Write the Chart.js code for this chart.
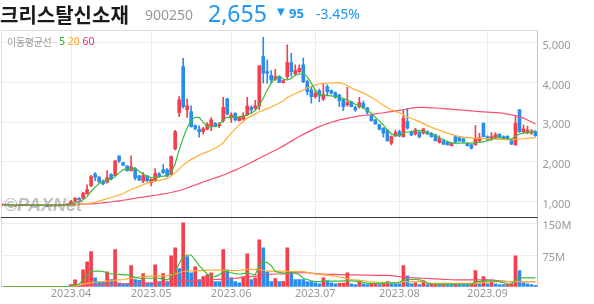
<!DOCTYPE html>
<html><head><meta charset="utf-8">
<script src="https://cdn.jsdelivr.net/npm/chart.js@4.4.1/dist/chart.umd.min.js"></script>
<style>
html,body{margin:0;padding:0;background:#fff;}
#wrap{position:relative;width:594px;height:304px;overflow:hidden;}
canvas{position:absolute;left:0;top:0;}
.t{position:absolute;white-space:nowrap;line-height:1;}
</style></head><body>
<div id="wrap">
<canvas id="c" width="594" height="304"></canvas>
<div class="t" style="left:0;top:0;font:bold 20px 'Noto Sans CJK KR';color:#1a1a1a">크리스탈신소재</div>
<div class="t" style="left:145px;top:5px;font:14px 'Noto Sans';color:#999">900250</div>
<div class="t" style="left:208px;top:-3px;font:23px 'Noto Sans';color:#2196f3">2,655</div>
<div class="t" style="left:277px;top:6px;font:10px 'DejaVu Sans';color:#2196f3">▼</div>
<div class="t" style="left:289px;top:4px;font:bold 13px 'Noto Sans';color:#2196f3">95</div>
<div class="t" style="left:316px;top:4px;font:14px 'Noto Sans';color:#2196f3">-3.45%</div>
<div class="t" style="left:7px;top:34px;font:10px 'Noto Sans CJK KR';color:#999;letter-spacing:-0.3px">이동평균선</div>
<div class="t" style="left:59px;top:34px;font:10.5px 'Noto Sans';"><span style="color:#22b022">5</span> <span style="color:#ffa31a">20</span> <span style="color:#f5245e">60</span></div>
<div class="t" style="left:4px;top:195px;font:italic bold 18px 'Liberation Sans';color:rgba(110,110,110,0.42)">©PAXNet</div>
</div>
<script>
// ---- data ----
const tradingDays = {
  '2023.03': [9,10,13,14,15,16,17,20,21,22,23,24,27,28,29,30,31],
  '2023.04': [3,4,5,6,7,10,11,12,13,14,17,18,19,20,21,24,25,26,27,28],
  '2023.05': [2,3,4,8,9,10,11,12,15,16,17,18,19,22,23,24,25,26,30,31],
  '2023.06': [1,2,5,7,8,9,12,13,14,15,16,19,20,21,22,23,26,27,28,29,30],
  '2023.07': [3,4,5,6,7,10,11,12,13,14,17,18,19,20,21,24,25,26,27,28,31],
  '2023.08': [1,2,3,4,7,8,9,10,11,14,16,17,18,21,22,23,24,25,28,29,30,31],
  '2023.09': [1,4,5,6,7,8,11,12,13,14,15,18,19]
};
const open = [905,920,910,888,890,900,905,890,898,892,900,895,882,895,888,900,905,
 940,1010,1080,1080,1190,1390,1693,1617,1500,1483,
 1676,1651,2147,1979,1895,1777,1827,1643,1508,1643,
 1475,1525,1693,1794,1794,1680,2323,3239,4398,3306,
 3264,2902,2818,2760,2818,2902,2970,2900,3037,3583,
 3117,3222,3037,3070,3180,3373,3348,3407,4650,4272,
 4180,4079,4146,3995,4146,4499,4213,4272,4440,4020,
 3810,3642,3793,3583,3894,3793,3740,3684,3558,3432,
 3516,3373,3390,3474,3360,3155,3054,2936,2844,2802,
 2466,2651,2760,2634,3012,2760,2701,2743,2718,2760,
 2718,2676,2483,2525,2491,2407,2634,2609,2575,2466,
 2424,2424,2533,2970,2634,2567,2600,2693,2634,2640,
 2550,2424,3306,2760,2740,2720,2760];
const high = [930,935,915,905,915,915,910,905,910,905,910,900,900,905,905,915,945,
 1030,1100,1095,1230,1420,1660,1727,1620,1542,1777,
 1700,2030,2150,1990,1900,2147,1850,1660,1727,1650,
 1570,1827,1727,1928,1830,2150,2790,3640,4608,3583,
 3407,2930,2902,2870,2990,3110,2990,2990,3625,3600,
 3230,3240,3140,3240,3625,3410,3550,4420,5137,4566,
 4300,4330,4160,4060,4944,4730,4440,4440,4610,4060,
 3895,3810,3830,3978,3936,3810,3760,3700,3570,3877,
 3530,3400,3625,3530,3370,3170,3070,2950,2860,2810,
 2650,2800,2800,3306,3348,2780,2844,2760,2827,2780,
 2740,2700,2650,2560,2520,2490,2650,2630,2590,2480,
 2440,2911,2718,2987,2650,2735,2735,2710,2650,2660,
 2570,3163,3320,2928,2900,2820,2780];
const low = [890,900,880,875,880,885,885,880,885,880,885,870,875,880,880,890,900,
 930,990,1030,1060,1180,1380,1525,1475,1416,1458,
 1550,1640,1980,1900,1760,1760,1542,1520,1475,1500,
 1390,1500,1610,1700,1620,1660,2300,3138,3350,3117,
 2869,2800,2617,2700,2800,2780,2880,2860,3000,3180,
 2990,3030,3020,3050,3160,3230,3320,3310,3978,3978,
 3980,4050,3990,3980,4080,4150,4190,4250,3995,3684,
 3474,3600,3516,3541,3684,3700,3600,3390,3290,3400,
 3380,3270,3350,3350,3200,3020,2940,2800,2617,2510,
 2424,2640,2630,2620,2820,2660,2667,2600,2693,2680,
 2620,2520,2466,2430,2424,2400,2470,2510,2490,2390,
 2315,2420,2500,2634,2530,2540,2580,2600,2560,2570,
 2430,2420,2740,2720,2700,2690,2640];
const close = [925,910,885,895,905,910,890,900,892,900,890,880,895,888,900,905,935,
 990,1080,1045,1210,1300,1626,1609,1500,1441,1600,
 1575,2020,2020,1911,1777,1878,1592,1542,1651,1525,
 1559,1710,1626,1727,1643,2130,2760,3558,3390,3407,
 2886,2835,2760,2835,2944,3054,2886,2945,3373,3205,
 3180,3054,3121,3155,3407,3306,3407,4415,4230,4230,
 4062,4146,3995,4045,4499,4272,4297,4356,4020,3768,
 3642,3726,3659,3700,3768,3726,3630,3541,3390,3491,
 3390,3306,3491,3373,3250,3037,2953,2819,2718,2533,
 2634,2735,2651,3100,2844,2676,2802,2634,2827,2701,
 2634,2533,2592,2441,2424,2466,2491,2525,2508,2407,
 2340,2592,2609,2634,2567,2634,2684,2617,2575,2580,
 2441,2970,2760,2827,2800,2750,2655];
const ma5 = [905,905,905,905,905,905,905,905,905,905,905,905,905,905,905,905,910,
 925,960,990,1040,1120,1250,1360,1450,1500,1550,
 1550,1630,1720,1800,1820,1840,1840,1760,1690,1640,
 1600,1600,1620,1640,1650,1710,1950,2300,2600,2850,
 3050,3120,3120,3000,2890,2870,2900,2940,3050,3120,
 3120,3120,3130,3150,3180,3220,3290,3420,3600,3810,
 3980,4100,4160,4080,4060,4100,4180,4210,4230,4146,
 3980,3800,3680,3670,3665,3660,3640,3625,3590,3560,
 3500,3450,3420,3350,3300,3220,3120,3030,2930,2800,
 2700,2660,2660,2720,2750,2750,2770,2790,2760,2720,
 2700,2660,2600,2560,2510,2470,2470,2470,2470,2470,
 2470,2480,2490,2500,2530,2570,2610,2610,2595,2580,
 2570,2650,2700,2720,2740,2760,2777];
const ma20 = [905,905,905,905,905,905,905,905,905,905,905,905,905,905,905,905,905,
 910,915,920,930,945,960,980,1010,1040,1070,
 1100,1130,1160,1200,1250,1300,1340,1380,1420,1460,
 1490,1510,1530,1550,1580,1640,1720,1820,1920,1990,
 2060,2110,2170,2210,2250,2290,2340,2400,2480,2600,
 2720,2830,2930,3010,3100,3150,3200,3260,3300,3340,
 3380,3430,3480,3530,3620,3670,3720,3760,3810,3860,
 3900,3930,3960,3970,3978,3985,3990,3995,3960,3920,
 3860,3810,3780,3730,3680,3620,3560,3490,3420,3360,
 3310,3270,3230,3190,3130,3090,3050,3010,2960,2910,
 2870,2830,2800,2760,2720,2690,2660,2634,2620,2610,
 2600,2592,2590,2590,2585,2580,2570,2565,2560,2552,
 2550,2560,2567,2580,2590,2600,2609];
const ma60 = [915,915,915,915,915,915,915,915,915,915,915,915,915,915,915,915,915,
 918,920,925,930,935,940,945,954,965,975,
 985,1000,1015,1030,1045,1065,1080,1095,1110,1125,
 1140,1155,1170,1190,1206,1225,1250,1275,1300,1340,
 1380,1415,1450,1490,1525,1560,1595,1626,1665,1705,
 1750,1790,1836,1880,1930,1980,2035,2088,2140,2190,
 2240,2290,2340,2400,2460,2520,2580,2634,2690,2740,
 2790,2840,2886,2925,2960,2995,3025,3054,3075,3095,
 3115,3135,3155,3165,3175,3190,3205,3222,3235,3250,
 3265,3280,3295,3310,3330,3350,3365,3373,3370,3365,
 3360,3355,3348,3340,3332,3325,3315,3306,3297,3288,
 3280,3272,3264,3258,3252,3246,3240,3234,3220,3200,
 3180,3160,3138,3100,3050,3000,2950];
// volume in millions of shares
const volume = [0.5,0.5,0.5,0.5,0.5,0.5,0.5,0.5,0.5,0.5,0.5,0.5,0.5,0.5,0.5,0.5,0.5,
 5,16,3,40,59,83,21,12,12,35,
 17,88,9,7,7,50,17,15,31,9,
 9,52,12,31,12,73,92,43,151,71,
 33,47,17,24,28,33,12,12,88,40,
 21,12,9,24,78,17,21,111,92,35,
 12,19,12,13,92,35,17,17,17,12,
 12,9,7,21,14,9,7,8,8.5,33,
 7,5,14,7,5,7,7.5,5,7,12,
 7,7,7,50,26,7,9,5,14,5,
 7,7.5,5,7,5,5,7,5,5,5,
 5.5,38,7,24,7,12,7,5,5,5.5,
 7,73,38,9,7,5,3];
const vma5 = [0.5,0.5,0.5,0.5,0.5,0.5,0.5,0.5,0.5,0.5,0.5,0.5,0.5,0.5,0.5,0.5,0.5,
 1.5,5,6,16,28,36,37,37,36,33,
 30,30,29,28,28,26,22,20,20,20,
 20,20,20,18,16,22,35,55,71,75,
 75,63,50,40,30,24,24,28,36,36,
 33,31,30,31,32,30,28,51,59,57,
 50,36,34,32,33,33,32,29,20,17,
 14,12,12,13,13,13,13,13,14,14,
 14,13,12,10,8,8,8,8,8,9,
 9,9,10,16,17,17,17,16,14,8,
 7,6,6,6,6,6,6,6,6,6,
 6,12,12,13,14,14,13,12,10,6,
 6,16,21,21,21,21,21];
const vma20 = [0.5,0.5,0.5,0.5,0.5,0.5,0.5,0.5,0.5,0.5,0.5,0.5,0.5,0.5,0.5,0.5,0.5,
 1,2,3,6,8,9.5,10.5,11.5,12,13,
 14,15,16,17,18.5,20,21,23,24,24.5,
 25,25,25,25.5,26,28,30,33,36,37,
 37.5,38,38,38.5,39,39,39,39,39,39,
 38,38,38.5,40,41,41,41,41,39,37,
 37,37,37,37,36,36,36,36,36,34,
 32,30,29,28,27,26,25,23,21,19,
 17,16,15,14,12,11.5,11,10.5,10,9.5,
 9.5,9.5,10,12,12,12,12,12,12,9,
 8,8,8,8,8,8,8,8,8,8,
 8,8,9,10,11,12,12,12,12,12,
 12,12,12,12,12,12,12];
const vma60 = [0.5,0.5,0.5,0.5,0.5,0.5,0.5,0.5,0.5,0.5,0.5,0.5,0.5,0.5,0.5,0.5,0.5,
 0.6,0.9,1.2,1.6,2.3,3,3.5,4,4.5,5,
 5.5,6,6.3,6.6,7,7.3,7.6,7.8,8,8,
 8.3,8.6,9,9.3,9.5,10.5,11.5,12.5,14,14,
 14,14.5,14.5,15,15.5,16,17,17.5,18,18.5,
 19.5,20,21,22,23,24,25,27,29,29.5,
 29.5,30,30,30,31,32,32.5,33,33,33,
 32,31,30.5,30,29.5,29,29,28.5,28.5,28,
 28,28,28,27.5,27.5,27.5,27,27,27,27,
 26,25,24,23,22,21.5,21,20.5,20,19.5,
 19,18.5,18,17.5,17,16.5,16,16,16,16,
 16,16,16,16,16,16,15,14,13,12,
 12,12,12,12,12,12,12];
const priceTicks = [1000, 2000, 3000, 4000, 5000];
const volTicks = [75, 150];

// ---- derived ----
const dates = [];
Object.keys(tradingDays).forEach(m => tradingDays[m].forEach(d => dates.push(m + '.' + String(d).padStart(2, '0'))));
const monthLabel = i => (i > 0 && dates[i].slice(0, 7) !== dates[i - 1].slice(0, 7)) ? dates[i].slice(0, 7) : '';

const UP = '#f5404c', DOWN = '#2b8cef';
const candleColors = close.map((c, i) => c >= open[i] ? UP : DOWN);
// volume bar colour: volume higher than the previous session -> red, otherwise blue
const volColors = volume.map((v, i) => (i > 0 && v > volume[i - 1]) ? UP : DOWN);
const bodies = open.map((o, i) => [o, close[i]]);
const wicks = low.map((l, i) => [l, high[i]]);
const C5 = '#3cba3c', C20 = '#ffae33', C60 = '#f5506e';

const tickFont = {family: "'Noto Sans', sans-serif", size: 11};

const frame = {
  id: 'frame',
  afterDraw(chart) {
    const {ctx, chartArea: a, scales} = chart;
    ctx.save();
    ctx.lineWidth = 1;
    ctx.strokeStyle = '#dcdcdc';
    ctx.beginPath();
    ctx.moveTo(a.left + 0.5, a.top); ctx.lineTo(a.left + 0.5, a.bottom);
    ctx.moveTo(a.left, a.top + 0.5); ctx.lineTo(a.right, a.top + 0.5);
    ctx.stroke();
    const yb = Math.round(scales.yPrice.bottom) + 0.5;
    ctx.strokeStyle = '#3a3a3a';
    ctx.beginPath(); ctx.moveTo(a.left, yb); ctx.lineTo(a.right, yb); ctx.stroke();
    ctx.restore();
  }
};

const lineDs = (data, color, axis) => ({type: 'line', data, yAxisID: axis, borderColor: color, borderWidth: 1.2, pointRadius: 0, fill: false, order: 1});

new Chart(document.getElementById('c'), {
  type: 'bar',
  data: {
    labels: dates,
    datasets: [
      lineDs(ma5, C5, 'yPrice'), lineDs(ma20, C20, 'yPrice'), lineDs(ma60, C60, 'yPrice'),
      lineDs(vma5, C5, 'yVol'), lineDs(vma20, C20, 'yVol'), lineDs(vma60, C60, 'yVol'),
      {type: 'bar', data: bodies, yAxisID: 'yPrice', backgroundColor: candleColors, barThickness: 3, minBarLength: 1, grouped: false, order: 2, borderWidth: 0},
      {type: 'bar', data: wicks, yAxisID: 'yPrice', backgroundColor: candleColors, barThickness: 1, grouped: false, order: 3, borderWidth: 0},
      {type: 'bar', data: volume, yAxisID: 'yVol', backgroundColor: volColors, barThickness: 3, grouped: false, order: 3, borderWidth: 0}
    ]
  },
  options: {
    responsive: false, animation: false, devicePixelRatio: 1, events: [],
    layout: {padding: {left: 1, top: 30, right: 0, bottom: 0}},
    plugins: {legend: {display: false}, tooltip: {enabled: false}},
    scales: {
      x: {
        type: 'category', offset: true,
        grid: {offset: false, drawTicks: false, color: c => monthLabel(c.index) ? '#ebebeb' : 'rgba(0,0,0,0)'},
        border: {display: false},
        ticks: {autoSkip: false, maxRotation: 0, minRotation: 0, padding: 1, color: '#999', font: tickFont, callback: (v, i) => monthLabel(i)},
        afterFit: s => { s.height = 17.3; }
      },
      yPrice: {
        type: 'linear', position: 'right', stack: 'panes', stackWeight: 187.3, min: 600, max: 5320,
        grid: {color: '#ededed', drawTicks: false},
        border: {display: true, color: '#c4c4c4'},
        ticks: {padding: 5, labelOffset: 3, color: '#999', font: tickFont, callback: v => v.toLocaleString('en-US')},
        afterBuildTicks: s => { s.ticks = priceTicks.map(v => ({value: v})); },
        afterFit: s => { s.width = 56.5; }
      },
      yVol: {
        type: 'linear', position: 'right', stack: 'panes', stackWeight: 69.4, min: 0, max: 164.2,
        grid: {color: '#ededed', drawTicks: false},
        border: {display: true, color: '#c4c4c4'},
        ticks: {padding: 5, labelOffset: 3, color: '#999', font: tickFont, callback: v => v + 'M'},
        afterBuildTicks: s => { s.ticks = volTicks.map(v => ({value: v})); },
        afterFit: s => { s.width = 56.5; }
      }
    }
  },
  plugins: [frame]
});
</script>
</body></html>
